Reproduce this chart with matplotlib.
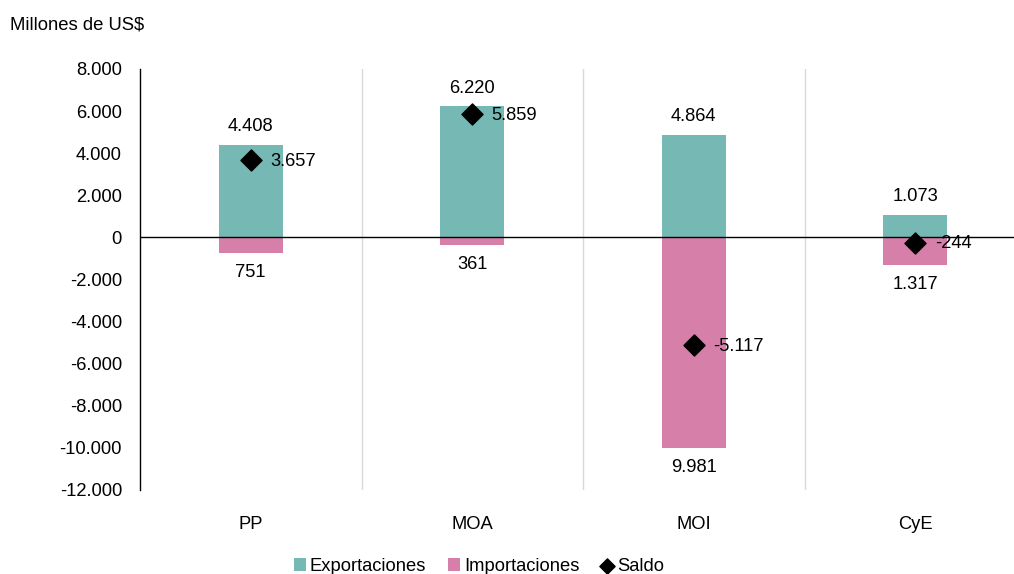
import numpy as np
import matplotlib.pyplot as plt
from matplotlib.ticker import FuncFormatter

plt.rcParams['font.family'] = ['Liberation Sans', 'DejaVu Sans']

# Data
categorias = ["PP", "MOA", "MOI", "CyE"]
exportaciones = [4408, 6220, 4864, 1073]
importaciones = [751, 361, 9981, 1317]
saldo = [3657, 5859, -5117, -244]

color_exp = "#76B9B4"
color_imp = "#D67FA8"
fs = 13.2

fig = plt.figure(figsize=(10.14, 5.74), dpi=100)
ax = fig.add_axes([140 / 1014, 1 - 490 / 574, 1 - 140 / 1014, (490 - 69) / 574])

x = np.arange(len(categorias))
w = 0.29
b_exp = ax.bar(x, exportaciones, width=w, color=color_exp, label="Exportaciones", zorder=2)
b_imp = ax.bar(x, [-v for v in importaciones], width=w, color=color_imp, label="Importaciones", zorder=2)
sc = ax.scatter(x, saldo, marker="D", s=115, color="black", label="Saldo", zorder=4)

fmt = lambda v: f"{v:,.0f}".replace(",", ".")

for i in range(len(categorias)):
    ax.annotate(fmt(exportaciones[i]), (x[i], exportaciones[i]), xytext=(0, 7),
                textcoords="offset points", ha="center", va="bottom", fontsize=fs)
    ax.annotate(fmt(importaciones[i]), (x[i], -importaciones[i]), xytext=(0, -8),
                textcoords="offset points", ha="center", va="top", fontsize=fs)
    ax.annotate(fmt(saldo[i]), (x[i], saldo[i]), xytext=(14, -1),
                textcoords="offset points", ha="left", va="center", fontsize=fs)

ax.set_xlim(-0.5, -0.5 + 874 / 221.5)
ax.set_ylim(-12000, 8000)
ax.set_yticks(np.arange(-12000, 8001, 2000))
ax.yaxis.set_major_formatter(FuncFormatter(lambda v, p: fmt(v)))
ax.set_xticks(x)
ax.set_xticklabels(categorias)
ax.tick_params(axis="both", length=0, labelsize=fs)
ax.tick_params(axis="y", pad=13)
ax.tick_params(axis="x", pad=19)

for s in ["top", "right", "bottom"]:
    ax.spines[s].set_visible(False)
ax.spines["left"].set_color("black")
ax.spines["left"].set_linewidth(1)
ax.axhline(0, color="black", linewidth=1, zorder=3)

for b in [0.5, 1.5, 2.5]:
    ax.axvline(b, color="#D9D9D9", linewidth=1, zorder=1)

fig.text(10 / 1014, 1 - 25 / 574, "Millones de US$", fontsize=13.3, va="center", ha="left")

leg = ax.legend([b_exp, b_imp, sc], ["Exportaciones", "Importaciones", "Saldo"],
                loc="lower center", bbox_to_anchor=(479 / 1014, -0.005), bbox_transform=fig.transFigure,
                ncol=3, frameon=False, fontsize=13.2, handlelength=0.65, handletextpad=0.2,
                columnspacing=1.2, borderaxespad=0.0, borderpad=0.1, scatterpoints=1)
leg.legend_handles[2].set_sizes([60])

fig.savefig("out.png", dpi=100)
